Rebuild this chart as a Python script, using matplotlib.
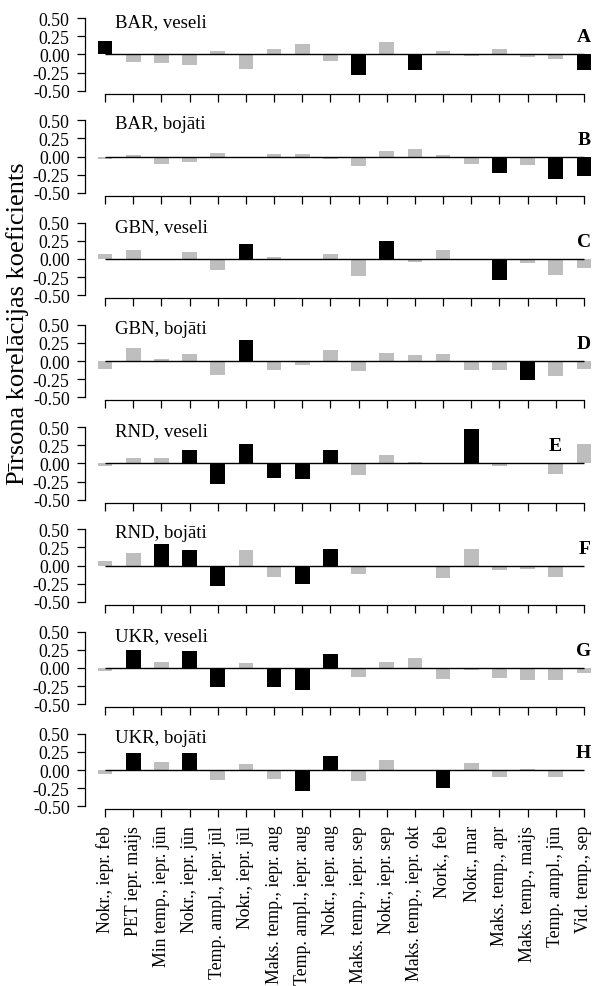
import matplotlib
matplotlib.use("Agg")
import matplotlib.pyplot as plt

plt.rcParams["font.family"] = ["Liberation Serif", "DejaVu Serif"]

categories = [
    "Nokr., iepr. feb", "PET iepr. maijs", "Min temp., iepr. jūn", "Nokr., iepr. jūn",
    "Temp. ampl., iepr. jūl", "Nokr., iepr. jūl", "Maks. temp., iepr. aug",
    "Temp. ampl., iepr. aug", "Nokr., iepr. aug", "Maks. temp., iepr. sep",
    "Nokr., iepr. sep", "Maks. temp., iepr. okt", "Nork., feb", "Nokr., mar",
    "Maks. temp., apr", "Maks. temp., maijs", "Temp. ampl., jūn", "Vid. temp., sep",
]

panel_titles = ["BAR, veseli", "BAR, bojāti", "GBN, veseli", "GBN, bojāti",
                "RND, veseli", "RND, bojāti", "UKR, veseli", "UKR, bojāti"]
panel_letters = ["A", "B", "C", "D", "E", "F", "G", "H"]

# Pearson correlation coefficients per site / tree condition
bar_veseli = [0.18, -0.10, -0.12, -0.15, 0.04, -0.20, 0.08, 0.14, -0.09, -0.28,
              0.17, -0.22, 0.05, -0.02, 0.08, -0.03, -0.07, -0.21]
bar_bojati = [-0.03, 0.02, -0.10, -0.07, 0.05, -0.01, 0.03, 0.04, -0.03, -0.13,
              0.08, 0.10, 0.02, -0.10, -0.23, -0.12, -0.31, -0.27]
gbn_veseli = [0.07, 0.12, 0.00, 0.09, -0.15, 0.21, 0.02, 0.00, 0.06, -0.24,
              0.25, -0.05, 0.12, 0.00, -0.29, -0.06, -0.22, -0.13]
gbn_bojati = [-0.11, 0.18, 0.03, 0.10, -0.19, 0.29, -0.12, -0.06, 0.15, -0.14,
              0.11, 0.09, 0.10, -0.12, -0.12, -0.26, -0.20, -0.11]
rnd_veseli = [-0.04, 0.07, 0.07, 0.18, -0.29, 0.26, -0.20, -0.22, 0.19, -0.16,
              0.12, 0.02, 0.00, 0.47, -0.03, 0.00, -0.14, 0.26]
rnd_bojati = [0.06, 0.18, 0.30, 0.21, -0.28, 0.21, -0.15, -0.26, 0.23, -0.11,
              -0.01, 0.00, -0.17, 0.23, -0.06, -0.05, -0.15, 0.00]
ukr_veseli = [-0.05, 0.25, 0.08, 0.23, -0.26, 0.07, -0.27, -0.31, 0.19, -0.12,
              0.08, 0.13, -0.16, -0.03, -0.14, -0.17, -0.17, -0.07]
ukr_bojati = [-0.05, 0.24, 0.11, 0.24, -0.13, 0.08, -0.12, -0.29, 0.20, -0.15,
              0.14, 0.00, -0.25, 0.10, -0.09, 0.02, -0.10, 0.00]

# 1 = statistically significant correlation (black bar)
bar_veseli_sig = [1, 0, 0, 0, 0, 0, 0, 0, 0, 1, 0, 1, 0, 0, 0, 0, 0, 1]
bar_bojati_sig = [0, 0, 0, 0, 0, 0, 0, 0, 0, 0, 0, 0, 0, 0, 1, 0, 1, 1]
gbn_veseli_sig = [0, 0, 0, 0, 0, 1, 0, 0, 0, 0, 1, 0, 0, 0, 1, 0, 0, 0]
gbn_bojati_sig = [0, 0, 0, 0, 0, 1, 0, 0, 0, 0, 0, 0, 0, 0, 0, 1, 0, 0]
rnd_veseli_sig = [0, 0, 0, 1, 1, 1, 1, 1, 1, 0, 0, 0, 0, 1, 0, 0, 0, 0]
rnd_bojati_sig = [0, 0, 1, 1, 1, 0, 0, 1, 1, 0, 0, 0, 0, 0, 0, 0, 0, 0]
ukr_veseli_sig = [0, 1, 0, 1, 1, 0, 1, 1, 1, 0, 0, 0, 0, 0, 0, 0, 0, 0]
ukr_bojati_sig = [0, 1, 0, 1, 0, 0, 0, 1, 1, 0, 0, 0, 1, 0, 0, 0, 0, 0]

values = [bar_veseli, bar_bojati, gbn_veseli, gbn_bojati,
          rnd_veseli, rnd_bojati, ukr_veseli, ukr_bojati]
signif = [bar_veseli_sig, bar_bojati_sig, gbn_veseli_sig, gbn_bojati_sig,
          rnd_veseli_sig, rnd_bojati_sig, ukr_veseli_sig, ukr_bojati_sig]

yticks = [0.50, 0.25, 0.00, -0.25, -0.50]
ytick_labels = ["0.50", "0.25", "0.00", "-0.25", "-0.50"]

W, H = 596, 987
fig = plt.figure(figsize=(W / 100, H / 100), dpi=100)

n = len(categories)
x = list(range(n))
left_px, right_px = 85, 595.5
top0_px, step_px, height_px = 16.1, 102.25, 78.5
xlim = (-0.71, 17.41)
ylim = (-0.54, 0.54)

for i, (vals, sig) in enumerate(zip(values, signif)):
    top = top0_px + step_px * i
    ax = fig.add_axes([left_px / W, 1 - (top + height_px) / H,
                       (right_px - left_px) / W, height_px / H])
    colors = ["#000000" if s else "#BEBEBE" for s in sig]
    ax.bar(x, vals, width=0.52, color=colors, linewidth=0, zorder=2)
    ax.hlines(0, 0, n - 1, color="black", linewidth=1.0, zorder=3)
    ax.set_xlim(*xlim)
    ax.set_ylim(*ylim)
    for side in ("top", "right"):
        ax.spines[side].set_visible(False)
    ax.spines["left"].set_bounds(-0.5, 0.5)
    ax.spines["bottom"].set_bounds(0, n - 1)
    for side in ("left", "bottom"):
        ax.spines[side].set_linewidth(0.9)
    ax.set_yticks(yticks)
    ax.set_yticklabels(ytick_labels)
    ax.set_xticks(x)
    ax.tick_params(axis="both", direction="out", length=5.5, width=0.9,
                   labelsize=12.8, pad=5.5)
    if i < len(values) - 1:
        ax.set_xticklabels([])
    else:
        ax.set_xticklabels(categories, rotation=90, fontsize=12.8, va="top")
    ax.text(0.35, 0.45, panel_titles[i], fontsize=13.5, ha="left", va="center")
    letter_x = 16.2 if panel_letters[i] == "E" else 17.25
    ax.text(letter_x, 0.24, panel_letters[i], fontsize=14, fontweight="bold",
            ha="right", va="center")

fig.text(18 / W, 1 - 324 / H, "Pīrsona korelācijas koeficients", rotation=90,
         fontsize=19, ha="center", va="center")

fig.savefig("out.png", dpi=100)
